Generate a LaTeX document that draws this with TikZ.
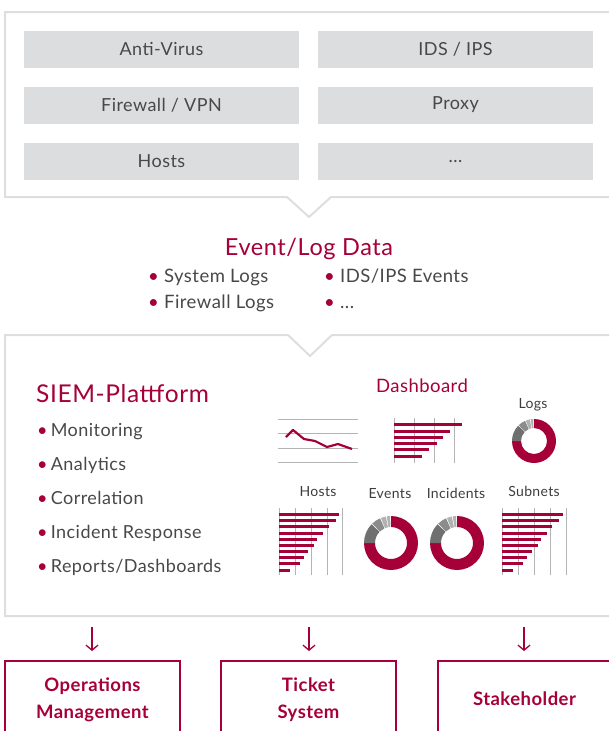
\documentclass[tikz,border=0pt]{standalone}
\usepackage{fontspec}
\setmainfont{Lato}[LetterSpace=2.5]
\usetikzlibrary{arrows.meta,calc}
\definecolor{crim}{RGB}{166,0,56}
\definecolor{txt}{RGB}{72,72,72}
\definecolor{bord}{RGB}{222,222,222}
\definecolor{cellc}{RGB}{220,221,222}
\definecolor{gridc}{RGB}{180,180,180}
\definecolor{dg}{RGB}{112,112,112}
\definecolor{mg}{RGB}{140,140,140}
\definecolor{lg}{RGB}{178,178,178}
\def\DRout{22pt}
\def\DRin{13pt}
\newcommand{\dslice}[5]{\fill[#5] ($(#1pt,#2pt)+(#3:\DRout)$) arc[start angle=#3,end angle=#4,radius=\DRout] -- ($(#1pt,#2pt)+(#4:\DRin)$) arc[start angle=#4,end angle=#3,radius=\DRin] -- cycle;}
\newcommand{\mydonut}[2]{%
  \dslice{#1}{#2}{90}{-180}{crim}
  \dslice{#1}{#2}{180}{136}{dg}
  \dslice{#1}{#2}{134}{114}{mg}
  \dslice{#1}{#2}{112}{101}{lg}
  \dslice{#1}{#2}{99}{92}{lg}}
\newcommand{\sbul}{\textcolor{crim}{•}\hspace{3.2pt}}
\tikzset{
  cell/.style={fill=cellc, minimum width=275pt, minimum height=37pt, inner sep=0pt, text=txt, font=\fontsize{18}{21}\selectfont},
  frame/.style={draw=bord, line width=2pt, line join=miter},
  bigred/.style={text=crim, font=\fontsize{23.5}{28}\selectfont, inner sep=0pt, anchor=base},
  item/.style={text=txt, font=\fontsize{18.5}{22}\selectfont, anchor=base west, inner sep=0pt},
  sitem/.style={text=txt, font=\fontsize{18}{21}\selectfont, anchor=base west, inner sep=0pt},
  lab/.style={text=txt!85!black, font=\fontsize{14}{17}\selectfont, inner sep=0pt, anchor=base},
  gline/.style={draw=gridc, line width=1pt},
  bar/.style={draw=crim, line width=3pt},
  outbox/.style={draw=crim, line width=2pt},
  outtxt/.style={text=crim, font=\bfseries\fontsize{18.5}{27}\selectfont, align=center, inner sep=0pt},
  arr/.style={draw=crim, line width=1.3pt, -{Straight Barb[length=5pt,width=12pt,line width=1.3pt]}}
}
\begin{document}
\begin{tikzpicture}[x=1pt,y=1pt]
\useasboundingbox (0,0) rectangle (609,-731);
% top frame
\draw[frame] (5,-12) -- (615,-12) -- (615,-197) -- (331,-197) -- (309,-217) -- (287,-197) -- (5,-197) -- cycle;
\node[cell] (av) at (161.5,-49) {Anti-Virus};
\node[cell] (ids) at (455.5,-49) {IDS / IPS};
\node[cell] (fw) at (161.5,-105) {Firewall / VPN};
\node[cell] (px) at (455.5,-105) {Proxy};
\node[cell] (ho) at (161.5,-161.5) {Hosts};
\node[cell] (dots) at (455.5,-161.5) {...};
% event log data
\node[bigred] (eld) at (309,-255) {Event/Log Data};
\node[item] (e1) at (148,-282.5) {\textcolor{crim}{•} System Logs};
\node[item] (e2) at (148,-308) {\textcolor{crim}{•} Firewall Logs};
\node[item] (e3) at (324,-282.5) {\textcolor{crim}{•} IDS/IPS Events};
\node[item] (e4) at (324,-308) {\textcolor{crim}{•} ...};
% SIEM frame
\draw[frame] (5,-335) -- (288,-335) -- (310,-356) -- (332,-335) -- (615,-335) -- (615,-616) -- (5,-616) -- cycle;
\node[bigred, anchor=base west, font=\fontsize{24.5}{29}\selectfont] (siem) at (36,-402) {SIEM-Plattform};
\node[sitem] (s1) at (37,-436) {\sbul Monitoring};
\node[sitem] (s2) at (37,-470) {\sbul Analytics};
\node[sitem] (s3) at (37,-504) {\sbul Correlation};
\node[sitem] (s4) at (37,-538) {\sbul Incident Response};
\node[sitem] (s5) at (37,-572.5) {\sbul Reports/Dashboards};
\node[text=crim, font=\fontsize{18.5}{22}\selectfont, inner sep=0pt, anchor=base] (dash) at (422,-392.5) {Dashboard};
% line chart
\foreach \yy in {419,433,448,462} \draw[gline] (278,-\yy) -- (358,-\yy);
\draw[crim, line width=2.2pt, line join=round] (286,-437) -- (293,-430) -- (304,-439) -- (315,-441) -- (327,-447) -- (338,-444) -- (352,-449);
% dashboard bar chart
\foreach \xx in {394,414,434,454} \draw[gline] (\xx,-418) -- (\xx,-463);
\foreach \yy/\xe in {424/462,431/450,437/443,443/437,449/429,456/422} \draw[bar] (394,-\yy) -- (\xe,-\yy);
% logs donut
\node[lab] (logs) at (533,-408) {Logs};
\mydonut{534}{-441}
% hosts bars
\node[lab] (hosts) at (318,-496.5) {Hosts};
\foreach \xx in {279,295,311,327,342} \draw[gline] (\xx,-508) -- (\xx,-575);
\foreach \yy/\xe in {514/339,520/336,526/329,533/323,539/317,545/314,551/308,557/304,563/300,570/290} \draw[bar] (279,-\yy) -- (\xe,-\yy);
% events / incidents donuts
\def\DRout{27pt}\def\DRin{16pt}
\node[lab] (events) at (390,-498.5) {Events};
\mydonut{391}{-543}
\node[lab] (inc) at (456,-498.5) {Incidents};
\mydonut{457}{-543}
% subnets bars
\node[lab] (subn) at (534,-496.5) {Subnets};
\foreach \xx in {502,518,534,550,566} \draw[gline] (\xx,-508) -- (\xx,-575);
\foreach \yy/\xe in {514/563,520/559,526/552,533/547,539/541,545/538,551/532,557/527,563/523,570/513} \draw[bar] (502,-\yy) -- (\xe,-\yy);
% bottom boxes
\draw[outbox] (5,-740) -- (5,-661) -- (180,-661) -- (180,-740);
\draw[outbox] (221,-740) -- (221,-661) -- (396,-661) -- (396,-740);
\draw[outbox] (438,-740) -- (438,-661) -- (615,-661);
\node[outtxt] (om) at (92.5,-699.5) {Operations\\Management};
\node[outtxt] (ts) at (308.5,-699.5) {Ticket\\System};
\node[outtxt] (sh) at (524.5,-699) {Stakeholder};
\coordinate (a1s) at (92,-627); \coordinate (a1e) at (92,-651);
\coordinate (a2s) at (309,-627); \coordinate (a2e) at (309,-651);
\coordinate (a3s) at (524,-627); \coordinate (a3e) at (524,-651);
\draw[arr] (a1s) -- (a1e);
\draw[arr] (a2s) -- (a2e);
\draw[arr] (a3s) -- (a3e);
\end{tikzpicture}
\end{document}
